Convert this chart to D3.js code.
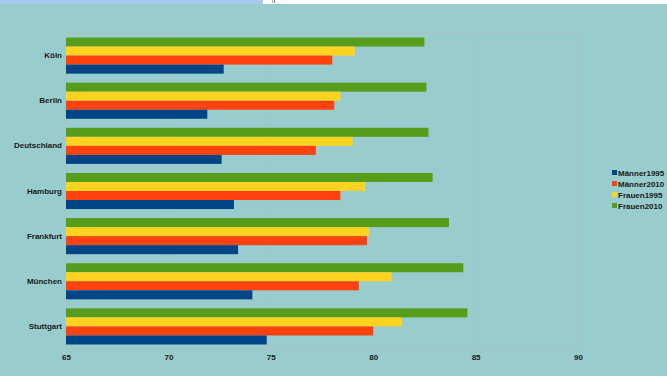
<!DOCTYPE html>
<html>
<head>
<meta charset="utf-8">
<script src="https://cdn.jsdelivr.net/npm/d3@7"></script>
<style>
  body { margin: 0; background: #99cccc; }
  svg { display: block; }
</style>
</head>
<body>
<svg id="chart" width="667" height="376"></svg>
<script>
// Städte (von oben nach unten)
const cities = ["Köln", "Berlin", "Deutschland", "Hamburg", "Frankfurt", "München", "Stuttgart"];
// Serien (von oben nach unten innerhalb einer Gruppe)
const seriesNames = ["Frauen2010", "Frauen1995", "Männer2010", "Männer1995"];
const legendNames = ["Männer1995", "Männer2010", "Frauen1995", "Frauen2010"];
const seriesColors = { "Männer1995": "#004586", "Männer2010": "#ff420e", "Frauen1995": "#ffd320", "Frauen2010": "#579d1c" };

// Lebenserwartung je Stadt
const maenner1995 = [72.7, 71.9, 72.6, 73.2, 73.4, 74.1, 74.8];
const maenner2010 = [78.0, 78.1, 77.2, 78.4, 79.7, 79.3, 80.0];
const frauen1995 = [79.1, 78.4, 79.0, 79.6, 79.8, 80.9, 81.4];
const frauen2010 = [82.5, 82.6, 82.7, 82.9, 83.7, 84.4, 84.6];
const xTicks = [65, 70, 75, 80, 85, 90];

const values = { "Männer1995": maenner1995, "Männer2010": maenner2010, "Frauen1995": frauen1995, "Frauen2010": frauen2010 };

const svg = d3.select("#chart");

// Streifen oben (Rest des Screenshots)
svg.append("rect").attr("x", 0).attr("y", 0).attr("width", 263).attr("height", 4).attr("fill", "#a8c8ee");
svg.append("rect").attr("x", 263).attr("y", 0).attr("width", 404).attr("height", 4).attr("fill", "#ffffff");
svg.append("rect").attr("x", 272).attr("y", 0).attr("width", 1).attr("height", 3).attr("fill", "#e8a040");
svg.append("rect").attr("x", 274).attr("y", 0).attr("width", 1).attr("height", 3).attr("fill", "#6080c0");

const plotLeft = 66, plotRight = 578, plotTop = 33, plotBottom = 349;

const x = d3.scaleLinear().domain([65, 90]).range([plotLeft, plotRight]);
const y0 = d3.scaleBand().domain(cities).range([plotTop, plotBottom]).paddingInner(0.2).paddingOuter(0.1);
const y1 = d3.scaleBand().domain(seriesNames).range([0, y0.bandwidth()]);

// Gitterlinien
svg.append("g")
  .selectAll("line")
  .data(xTicks)
  .join("line")
  .attr("x1", d => x(d)).attr("x2", d => x(d))
  .attr("y1", plotTop).attr("y2", plotBottom)
  .attr("stroke", "#a9c4c4").attr("stroke-width", 1);
svg.append("line").attr("x1", plotLeft).attr("x2", plotRight).attr("y1", plotTop).attr("y2", plotTop)
  .attr("stroke", "#a9c4c4");
svg.append("line").attr("x1", plotLeft).attr("x2", plotRight).attr("y1", plotBottom).attr("y2", plotBottom)
  .attr("stroke", "#a9c4c4");

// Balken
const groups = svg.append("g")
  .selectAll("g")
  .data(cities)
  .join("g")
  .attr("transform", d => `translate(0,${y0(d)})`);

groups.selectAll("rect")
  .data((c, i) => seriesNames.map(s => ({ s, v: values[s][i] })))
  .join("rect")
  .attr("x", x(65))
  .attr("y", d => y1(d.s))
  .attr("width", d => x(d.v) - x(65))
  .attr("height", y1.bandwidth())
  .attr("fill", d => seriesColors[d.s]);

// Y-Achse Beschriftung
const yAxis = svg.append("g")
  .attr("transform", `translate(${plotLeft},0)`)
  .call(d3.axisLeft(y0).tickSize(0).tickPadding(4));
yAxis.select(".domain").remove();
yAxis.selectAll("text")
  .attr("font-family", "Liberation Sans, Arial, sans-serif")
  .attr("font-size", 8).attr("font-weight", "bold").attr("fill", "#1a1a1a");

// X-Achse Beschriftung
const xAxis = svg.append("g")
  .attr("transform", `translate(0,${plotBottom})`)
  .call(d3.axisBottom(x).tickValues(xTicks).tickSize(0).tickPadding(5));
xAxis.select(".domain").remove();
xAxis.selectAll("text")
  .attr("font-family", "Liberation Sans, Arial, sans-serif")
  .attr("font-size", 8).attr("font-weight", "bold").attr("fill", "#1a1a1a");

// Legende
const legend = svg.append("g").attr("transform", "translate(612,168)");
const item = legend.selectAll("g")
  .data(legendNames)
  .join("g")
  .attr("transform", (d, i) => `translate(0,${i * 11})`);
item.append("rect").attr("x", 0).attr("y", 2).attr("width", 5).attr("height", 5)
  .attr("fill", d => seriesColors[d]);
item.append("text").attr("x", 6).attr("y", 8)
  .attr("font-family", "Liberation Sans, Arial, sans-serif")
  .attr("font-size", 8).attr("font-weight", "bold").attr("fill", "#1a1a1a")
  .text(d => d);
</script>
</body>
</html>
